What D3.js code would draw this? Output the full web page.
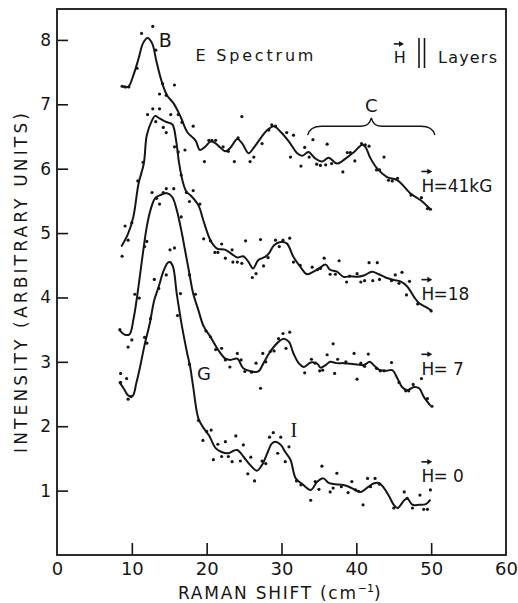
<!DOCTYPE html>
<html>
<head>
<meta charset="utf-8">
<title>E Spectrum, H || Layers</title>
<script src="https://d3js.org/d3.v7.min.js"></script>
<style>
    body { margin: 0; background: #fff; }
    svg text { font-family: 'DejaVu Sans', sans-serif; fill: #161616; }
    .tick line { stroke: #161616; stroke-width: 1.6px; }
    .tick text { font-size: 17px; }
</style>
</head>
<body>
<svg id="chart" width="518" height="603"></svg>
<script>
// tick labels
const xTicks = [0, 10, 20, 30, 40, 50, 60];
const yTicks = [1, 2, 3, 4, 5, 6, 7, 8];

// field labels, top to bottom
const fieldLabels = ["=41kG", "=18", "= 7", "= 0"];

// smooth curves [shift cm-1, intensity]
const curve41 = [[8.7,7.28],[9.5,7.27],[10.2,7.45],[10.9,7.71],[11.5,7.95],[12.1,8.03],[12.7,7.95],[13.3,7.66],[14.0,7.35],[14.7,7.14],[15.6,7.01],[16.5,6.81],[17.4,6.57],[18.5,6.44],[19.1,6.29],[19.8,6.34],[20.5,6.42],[21.1,6.40],[21.8,6.33],[22.5,6.27],[23.2,6.33],[24.1,6.46],[24.7,6.40],[25.6,6.24],[26.2,6.31],[26.7,6.39],[28.1,6.60],[29.0,6.66],[29.9,6.57],[31.0,6.42],[32.1,6.24],[32.8,6.20],[33.6,6.26],[34.5,6.16],[35.4,6.11],[36.3,6.17],[37.4,6.08],[38.6,6.16],[39.7,6.26],[40.8,6.37],[41.2,6.34],[41.9,6.16],[42.8,6.00],[44.1,5.87],[45.5,5.82],[47.3,5.61],[48.6,5.51],[49.9,5.37]];
const curve18 = [[8.6,4.79],[9.5,4.99],[10.2,5.25],[10.9,5.77],[11.6,6.08],[12.0,6.52],[12.7,6.75],[13.1,6.82],[13.7,6.78],[14.5,6.73],[15.4,6.69],[15.9,6.45],[16.3,6.10],[16.8,5.80],[17.3,5.64],[17.9,5.58],[18.9,5.43],[19.6,5.18],[20.5,4.89],[21.4,4.76],[22.5,4.74],[23.4,4.67],[24.1,4.62],[24.9,4.64],[25.6,4.55],[26.2,4.45],[26.9,4.58],[27.8,4.63],[28.3,4.68],[29.0,4.81],[29.9,4.86],[30.7,4.84],[31.6,4.63],[32.5,4.48],[33.4,4.36],[34.1,4.39],[35.0,4.45],[35.9,4.51],[36.5,4.43],[37.4,4.40],[38.3,4.32],[39.2,4.33],[40.1,4.32],[41.0,4.34],[42.1,4.40],[43.0,4.36],[43.9,4.31],[45.0,4.27],[45.9,4.25],[46.8,4.17],[47.7,4.01],[48.4,3.91],[49.3,3.85],[50.0,3.80]];
const curve7 = [[8.4,3.49],[9.1,3.42],[9.7,3.43],[10.2,3.65],[10.7,4.01],[11.6,4.79],[12.0,5.10],[12.5,5.36],[13.1,5.54],[13.8,5.59],[14.7,5.62],[15.4,5.56],[16.0,5.36],[16.7,4.99],[17.1,4.74],[17.6,4.43],[18.2,4.06],[18.9,3.80],[19.6,3.55],[20.5,3.39],[21.4,3.21],[22.5,3.05],[23.2,3.03],[24.1,3.05],[24.9,2.90],[26.1,2.85],[26.9,2.85],[27.6,2.98],[28.5,3.16],[29.6,3.31],[30.3,3.36],[31.0,3.31],[31.6,3.13],[32.3,2.98],[33.0,2.92],[33.9,2.99],[34.8,2.97],[35.2,2.91],[35.9,2.95],[36.5,3.00],[37.4,2.98],[38.3,2.98],[39.2,2.97],[40.1,2.96],[41.0,2.95],[41.8,3.00],[42.3,2.95],[43.0,2.88],[43.9,2.86],[44.8,2.87],[45.5,2.74],[46.1,2.61],[46.8,2.56],[47.7,2.61],[48.4,2.59],[49.0,2.46],[49.9,2.32]];
const curve0 = [[8.3,2.69],[8.9,2.59],[9.5,2.48],[10.1,2.47],[10.6,2.67],[11.1,2.92],[11.7,3.26],[12.4,3.60],[13.0,3.96],[13.6,4.17],[14.2,4.40],[14.8,4.54],[15.1,4.55],[15.5,4.48],[16.0,4.06],[16.7,3.55],[17.4,3.13],[17.8,2.92],[18.2,2.61],[18.9,2.12],[19.6,1.97],[20.3,1.86],[21.2,1.66],[22.0,1.60],[22.9,1.58],[23.6,1.62],[24.1,1.63],[24.9,1.53],[25.8,1.40],[26.7,1.31],[27.4,1.40],[28.1,1.58],[28.7,1.73],[29.2,1.76],[29.9,1.71],[30.5,1.60],[31.2,1.48],[31.9,1.19],[32.8,1.10],[33.9,1.01],[34.8,1.14],[35.6,1.19],[36.3,1.12],[37.2,1.10],[38.1,1.09],[39.0,1.06],[39.9,1.01],[40.6,0.98],[41.5,1.05],[42.3,1.11],[43.0,1.12],[43.7,1.04],[44.4,0.91],[45.0,0.78],[45.5,0.73],[46.4,0.85],[46.8,0.88],[47.5,0.78],[48.4,0.78],[49.3,0.79],[49.9,0.86]];

// measured points
const dots41 = [[8.7,7.28],[9.1,7.27],[9.6,7.27],[10.7,7.56],[11.3,8.10],[12.8,8.21],[13.2,7.84],[13.7,7.16],[14.1,7.32],[14.6,7.14],[15.7,7.30],[16.2,6.84],[16.7,6.72],[17.1,6.29],[18.2,6.66],[19.7,6.11],[20.3,6.44],[20.7,6.44],[21.2,6.44],[22.2,6.34],[22.9,6.27],[23.7,6.11],[24.2,6.48],[24.7,6.81],[25.8,6.11],[26.3,6.18],[27.4,6.39],[28.3,6.60],[28.7,6.68],[29.2,6.66],[30.7,6.56],[31.2,6.18],[31.6,6.52],[32.6,6.04],[33.1,6.33],[33.7,6.18],[34.2,6.45],[34.7,6.07],[35.2,6.05],[35.9,6.06],[36.1,6.38],[36.7,6.08],[38.2,5.95],[38.8,6.25],[39.2,6.25],[39.8,6.12],[40.7,6.39],[41.2,6.37],[41.7,6.35],[42.7,5.98],[43.1,5.98],[43.7,6.18],[44.3,5.82],[44.8,5.81],[45.5,5.85],[47.3,5.59],[48.7,5.55],[49.5,5.38],[49.9,5.37]];
const dots18 = [[8.7,4.64],[9.1,5.11],[9.5,4.89],[10.0,5.16],[10.8,5.81],[11.5,6.10],[12.1,6.84],[12.8,6.93],[13.2,6.73],[13.7,6.93],[14.2,6.64],[14.6,6.56],[15.2,6.84],[15.7,6.34],[16.2,6.26],[16.6,5.90],[17.3,5.63],[17.7,5.49],[18.2,5.66],[19.1,5.45],[19.6,4.91],[20.5,4.88],[21.1,4.70],[21.5,4.70],[22.0,4.83],[22.5,4.61],[23.4,4.74],[23.5,4.55],[24.1,4.55],[24.7,4.53],[25.2,4.88],[26.1,4.31],[26.6,4.37],[27.2,4.90],[27.6,4.49],[28.2,4.62],[29.2,4.89],[29.7,4.79],[30.2,4.89],[31.1,4.92],[31.6,4.55],[32.5,4.50],[34.1,4.47],[34.8,4.43],[35.2,4.45],[35.7,4.61],[36.5,4.36],[37.2,4.36],[37.7,4.57],[38.7,4.24],[39.1,4.33],[40.1,4.37],[40.6,4.24],[41.1,4.26],[41.7,4.54],[42.2,4.26],[42.8,4.54],[43.1,4.28],[44.7,4.26],[45.2,4.35],[45.7,4.22],[46.1,4.39],[46.7,4.04],[47.1,4.25],[48.2,3.90],[50.0,3.79]];
const dots7 = [[8.4,3.50],[9.5,3.23],[10.0,3.34],[10.4,4.05],[11.0,3.99],[11.7,4.79],[12.0,4.87],[12.7,5.63],[13.3,5.54],[13.7,5.45],[14.2,5.63],[14.6,5.69],[15.6,5.69],[16.6,5.25],[17.7,4.35],[18.5,4.05],[19.9,3.48],[20.5,3.39],[21.2,3.19],[22.0,3.21],[22.5,3.03],[23.1,2.92],[24.1,3.13],[24.6,3.03],[25.1,2.85],[26.0,2.84],[26.6,2.98],[27.2,2.59],[27.5,3.13],[27.9,3.00],[28.5,3.16],[29.0,3.17],[29.6,3.36],[30.2,3.44],[30.6,3.21],[31.1,3.46],[33.1,2.83],[34.0,3.04],[34.5,2.98],[35.1,2.86],[35.5,2.87],[36.1,3.11],[36.9,3.28],[37.1,2.82],[37.5,3.04],[38.6,3.00],[39.7,3.13],[40.1,2.73],[40.6,2.98],[41.1,2.93],[41.6,3.12],[42.7,2.90],[43.2,2.86],[43.7,2.86],[44.7,2.99],[45.7,2.68],[46.6,2.55],[47.0,2.55],[47.6,2.65],[48.7,2.74],[49.5,2.43],[50.1,2.31]];
const dots0 = [[8.5,2.82],[8.5,2.68],[9.3,2.74],[9.5,2.42],[9.9,2.46],[11.7,3.38],[12.0,3.29],[12.5,3.67],[13.0,4.28],[13.6,4.14],[14.6,4.35],[15.1,4.74],[15.7,4.77],[16.1,3.72],[16.5,4.06],[17.7,2.96],[18.9,2.09],[19.5,1.78],[20.0,1.92],[20.6,1.94],[20.9,1.48],[21.5,1.72],[22.0,1.53],[22.5,1.76],[22.9,1.53],[23.4,1.45],[23.9,1.85],[24.5,1.46],[24.9,1.71],[25.5,1.26],[25.9,1.52],[26.4,1.15],[27.4,1.46],[27.9,1.42],[28.4,1.83],[28.9,1.90],[29.5,1.58],[29.9,1.83],[30.5,1.45],[31.0,1.68],[32.0,1.15],[32.6,1.09],[33.9,0.85],[34.5,1.14],[35.0,1.02],[35.4,1.38],[36.5,0.98],[36.9,1.04],[37.4,1.27],[38.0,1.06],[38.9,0.97],[39.4,1.14],[39.9,1.01],[40.3,0.99],[40.9,0.78],[41.5,1.19],[41.9,1.06],[42.5,1.19],[43.1,1.10],[45.0,0.73],[46.4,0.98],[46.8,0.88],[47.5,0.73],[48.5,0.93],[49.0,0.71],[49.5,0.71],[49.9,1.01]];

const svg = d3.select("#chart");
const ink = "#161616";

const x = d3.scaleLinear().domain([0, 60]).range([57, 506]);
const y = d3.scaleLinear().domain([0, 8.48]).range([555, 9]);

// axes, ticks pointing inward
svg.append("g")
    .attr("transform", `translate(0,${y(0)})`)
    .call(d3.axisBottom(x).tickValues(xTicks).tickSize(-12).tickSizeOuter(0).tickPadding(7).tickFormat(d3.format("d")))
    .call(g => g.select(".domain").remove())
    .call(g => g.selectAll(".tick").filter(d => d === 0 || d === 60).select("line").remove())
    .call(g => g.selectAll("text").style("font-size", "18px"));

svg.append("g")
    .attr("transform", `translate(${x(0)},0)`)
    .call(d3.axisLeft(y).tickValues(yTicks).tickSize(-11).tickSizeOuter(0).tickPadding(6).tickFormat(d3.format("d")))
    .call(g => g.select(".domain").remove());

svg.append("rect")
    .attr("x", x(0)).attr("y", y(8.48))
    .attr("width", x(60) - x(0)).attr("height", y(0) - y(8.48))
    .attr("fill", "none").attr("stroke", ink).attr("stroke-width", 1.8);

// axis titles
svg.append("text")
    .attr("transform", `translate(27,${(y(0) + y(8.48)) / 2 + 1}) rotate(-90)`)
    .attr("text-anchor", "middle")
    .attr("textLength", 340).attr("lengthAdjust", "spacing")
    .style("font-size", "17px")
    .text("INTENSITY (ARBITRARY UNITS)");

const xt = svg.append("text")
    .attr("x", 178).attr("y", 599)
    .style("font-size", "17px");
xt.append("tspan").attr("textLength", 178).attr("lengthAdjust", "spacing").text("RAMAN SHIFT (cm");
xt.append("tspan").attr("dy", -7).style("font-size", "11px").text("−1");
xt.append("tspan").attr("dy", 7).text(")");

// curves and points
const line = d3.line()
    .x(d => x(d[0]))
    .y(d => y(d[1]))
    .curve(d3.curveCatmullRom.alpha(0.5));

const series = [
    { curve: curve41, dots: dots41 },
    { curve: curve18, dots: dots18 },
    { curve: curve7, dots: dots7 },
    { curve: curve0, dots: dots0 }
];

series.forEach(s => {
    svg.append("path")
        .datum(s.curve)
        .attr("d", line)
        .attr("fill", "none")
        .attr("stroke", ink)
        .attr("stroke-width", 2);

    svg.append("g").selectAll("circle")
        .data(s.dots)
        .enter()
        .append("circle")
        .attr("cx", d => x(d[0]))
        .attr("cy", d => y(d[1]))
        .attr("r", 1.6)
        .attr("fill", ink);
});

// H with an arrow over it
function arrowH(px, py, size) {
    const w = size * 0.64;
    const ay = py - size * 1.2;
    svg.append("line")
        .attr("x1", px).attr("x2", px + w - 3)
        .attr("y1", ay).attr("y2", ay)
        .attr("stroke", ink).attr("stroke-width", 1.6);
    svg.append("path")
        .attr("d", `M${px + w},${ay} L${px + w - 5},${ay - 2.8} L${px + w - 5},${ay + 2.8} Z`)
        .attr("fill", ink);
    svg.append("text").attr("x", px).attr("y", py).style("font-size", size + "px").text("H");
}

// field labels
const labelY = [5.64, 3.96, 2.80, 1.13];
fieldLabels.forEach((t, i) => {
    const px = x(48.7), py = y(labelY[i]);
    arrowH(px, py, 17);
    svg.append("text")
        .attr("x", px + 12).attr("y", py)
        .style("font-size", "17px")
        .text(t);
});

// header texts
svg.append("text")
    .attr("x", x(18.5)).attr("y", y(7.67))
    .attr("textLength", 118).attr("lengthAdjust", "spacing")
    .style("font-size", "16px")
    .text("E Spectrum");

arrowH(x(45.0), y(7.64), 16);
svg.append("line").attr("x1", 419).attr("x2", 419).attr("y1", 38).attr("y2", 68).attr("stroke", ink).attr("stroke-width", 1.6);
svg.append("line").attr("x1", 424.5).attr("x2", 424.5).attr("y1", 38).attr("y2", 68).attr("stroke", ink).attr("stroke-width", 1.6);
svg.append("text")
    .attr("x", 438).attr("y", y(7.64))
    .attr("textLength", 59).attr("lengthAdjust", "spacing")
    .style("font-size", "16px")
    .text("Layers");

// peak letters
svg.append("text").attr("x", x(13.6)).attr("y", y(7.89)).style("font-size", "19px").text("B");
svg.append("text").attr("x", x(42.0)).attr("y", y(6.88)).attr("text-anchor", "middle").style("font-size", "18px").text("C");
svg.append("text").attr("x", x(18.7)).attr("y", y(2.72)).style("font-size", "18px").text("G");
svg.append("text").attr("x", x(31.2)).attr("y", y(1.83))
    .style("font-family", "'Liberation Serif', serif").style("font-size", "20px").text("I");

// brace over region C
const bx0 = x(33.5), bx1 = x(50.5), bxm = x(42.0);
const by0 = y(6.52), byh = y(6.66), byc = y(6.79);
svg.append("path")
    .attr("d", `M${bx0},${by0} Q${bx0 + 2},${byh} ${bx0 + 14},${byh} L${bxm - 10},${byh} Q${bxm - 2},${byh} ${bxm},${byc}` +
               ` Q${bxm + 2},${byh} ${bxm + 10},${byh} L${bx1 - 14},${byh} Q${bx1 - 2},${byh} ${bx1},${by0}`)
    .attr("fill", "none").attr("stroke", ink).attr("stroke-width", 1.4);
</script>
</body>
</html>
